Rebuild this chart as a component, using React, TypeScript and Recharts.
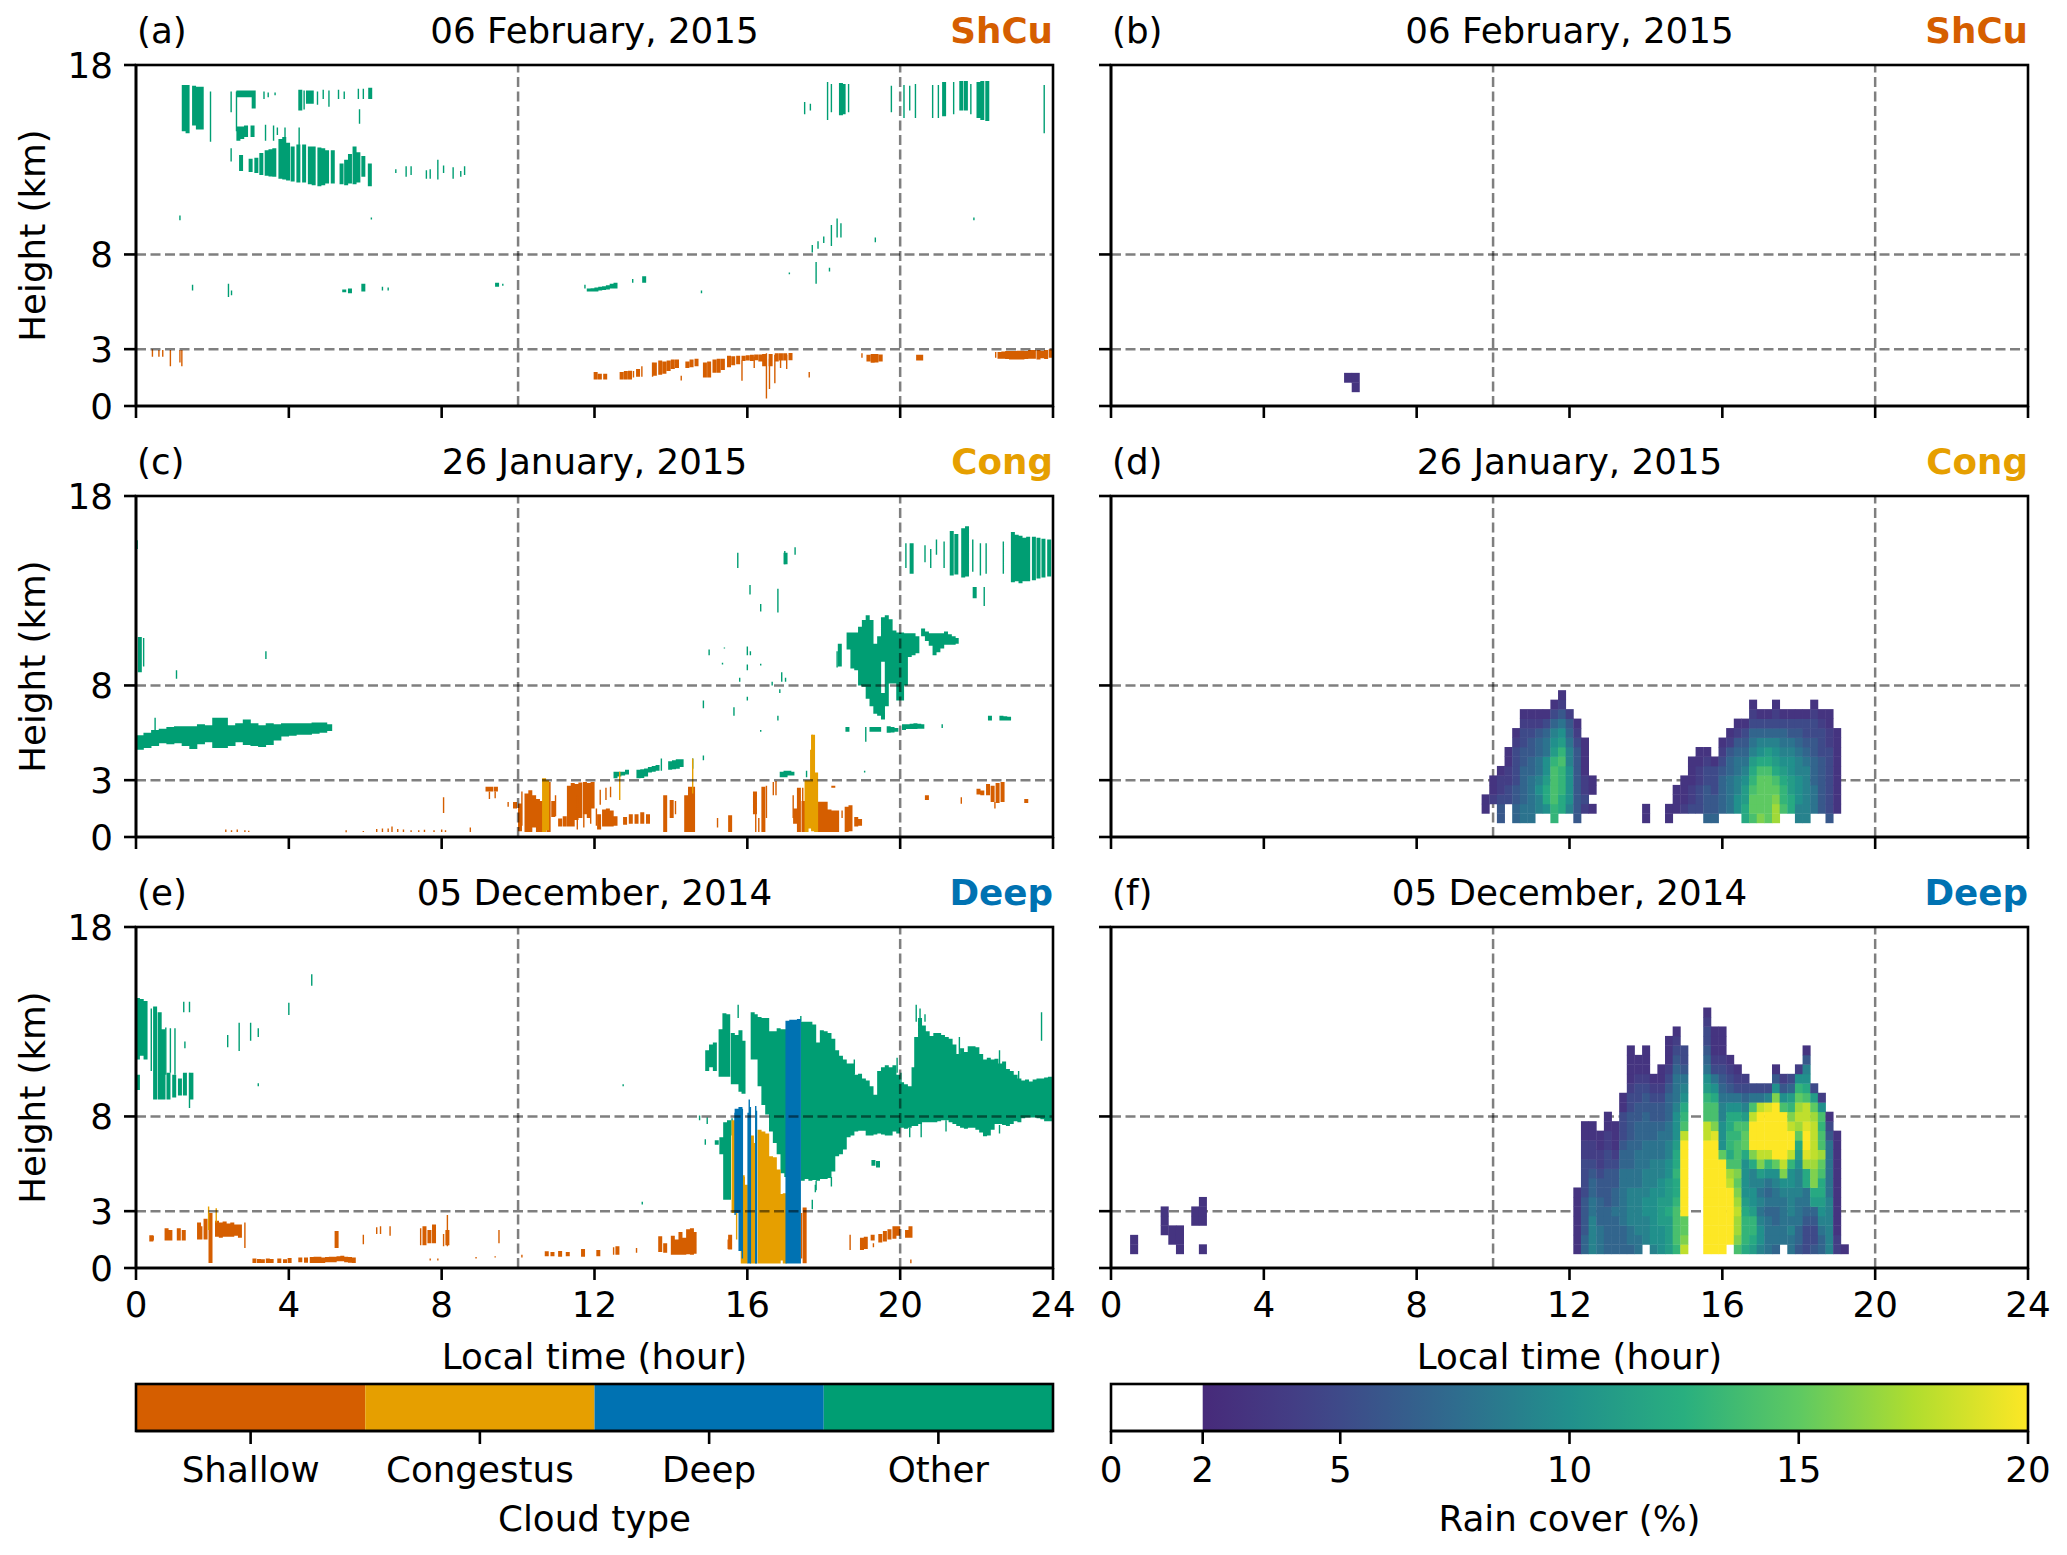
import React from "react";
import {
  Bar,
  BarChart,
  ComposedChart,
  Line,
  ReferenceLine,
  Scatter,
  XAxis,
  YAxis,
} from "recharts";

type Span = [number, number, number]; // time (h), cloud base (km), cloud top (km)
type RainColumn = [number, number, number[]]; // time (h), lowest cell (km), rain cover going up (0 = empty)

const timeTicks = [0, 4, 8, 12, 16, 20, 24];
const heightTicks = [0, 3, 8, 18];
const cloudTypes = ["Shallow", "Congestus", "Deep", "Other"];
const cloudTypeTicks = [0.5, 1.5, 2.5, 3.5];
const rainTicks = [0, 2, 5, 10, 15, 20];
const rainStopValues = [2, 4, 5, 7.5, 10, 12.5, 15, 17.5, 20];
const rainStopColors = ["#472a7a", "#433e85", "#3e4a89", "#2f6c8e", "#21908c", "#29af7f", "#5ec962", "#b0dd2f", "#fde725"];

// (a) 06 February 2015
const aOtherThick: Span[] = [
  [1.25, 14.5, 16.95], [1.35, 14.4, 16.95], [1.52, 14.8, 16.9], [1.62, 14.6, 16.85], [1.72, 14.6, 16.85],
  [2.68, 16.3, 16.65], [2.78, 16.3, 16.65], [2.88, 16.3, 16.65], [2.98, 16.3, 16.65], [3.08, 15.7, 16.65],
  [4.3, 15.6, 16.7], [4.5, 15.95, 16.65], [4.6, 15.95, 16.65], [6.13, 16.2, 16.8],
  [2.68, 14, 14.75], [2.78, 14.1, 14.75], [2.88, 14.2, 14.8], [3.05, 14.2, 14.8],
  [2.75, 12.4, 13.25], [3, 12.35, 13.05], [3.15, 12.3, 13.1], [3.28, 12.2, 13.35], [3.42, 12.15, 13.5], [3.52, 12.12, 13.55], [3.62, 12.1, 13.6],
  [3.78, 12, 14.1], [3.88, 11.95, 14.2], [3.98, 11.9, 13.9], [4.1, 11.85, 13.7], [4.25, 11.8, 13.8],
  [4.4, 11.8, 13.8], [4.55, 11.7, 13.7], [4.65, 11.65, 13.7], [4.8, 11.6, 13.65], [4.9, 11.65, 13.6], [5, 11.75, 13.5],
  [5.15, 11.75, 13.5], [5.38, 11.7, 12.8], [5.5, 11.65, 13], [5.6, 11.75, 13.3], [5.72, 11.7, 13.7],
  [5.82, 11.8, 13.4], [5.95, 12.1, 13.2], [6.12, 11.6, 12.8],
  [18.45, 15.35, 17.05], [18.52, 15.4, 17], [21.15, 15.3, 17.1], [21.6, 15.6, 17.15], [21.72, 15.6, 17.15],
  [22.05, 15.2, 17.1], [22.15, 15.1, 17.15], [22.28, 15.05, 17.15],
  [5.45, 6, 6.15], [5.6, 5.95, 6.2], [5.95, 6.05, 6.45], [9.45, 6.3, 6.5],
  [11.85, 6.05, 6.2], [11.95, 6.05, 6.22], [12.05, 6.05, 6.25], [12.15, 6.1, 6.3], [12.25, 6.12, 6.32], [12.35, 6.15, 6.38], [12.45, 6.2, 6.45], [12.55, 6.2, 6.5], [13.3, 6.5, 6.85],
];
const aOtherThin: Span[] = [
  [1.95, 13.95, 16.6], [2.49, 15.5, 16.6], [2.63, 14.5, 16.6], [3.35, 16.2, 16.6], [3.46, 16.3, 16.55],
  [3.64, 16.4, 16.55], [4.4, 15.65, 16.65], [4.75, 15.9, 16.6], [4.9, 16.2, 16.7], [5.05, 15.8, 16.65],
  [5.3, 16.2, 16.7], [5.45, 16.2, 16.6], [5.85, 14.9, 15.66], [5.82, 16.2, 16.75], [5.95, 16.2, 16.75],
  [2.49, 12.9, 13.6], [3.39, 14, 14.85], [3.6, 14, 14.8], [3.7, 14.3, 14.7], [3.9, 13.8, 14.7], [4.27, 13.7, 14.7],
  [6.8, 12.3, 12.5], [7.07, 12.1, 12.65], [7.2, 12.2, 12.65], [7.6, 12, 12.45], [7.7, 12, 12.5], [7.9, 11.95, 13],
  [8.05, 12.3, 12.7], [8.3, 12, 12.6], [8.5, 12.1, 12.4], [8.6, 12.2, 12.65],
  [17.5, 15.4, 16.05], [17.65, 15.6, 15.95], [18.1, 15.1, 17.1], [18.2, 15.5, 17], [18.65, 15.5, 17],
  [19.77, 15.5, 16.9], [20.1, 15.2, 16.95], [20.25, 15.6, 16.9], [20.4, 15.2, 17], [20.85, 15.2, 16.95],
  [21, 15.2, 16.95], [21.4, 15.4, 17.1], [21.85, 15.4, 17], [23.77, 14.4, 16.95],
  [1.15, 9.8, 10.05], [6.16, 9.85, 9.95], [21.93, 9.8, 9.95], [17.7, 8.1, 8.5], [17.85, 8.3, 8.7], [18, 8.6, 8.95],
  [18.2, 8.45, 9.55], [18.35, 8.9, 9.9], [18.45, 8.9, 9.65], [17.8, 6.45, 7.6], [18.15, 7.1, 7.3], [17.1, 6.95, 7.05],
  [19.35, 8.65, 8.9], [1.48, 6.1, 6.4], [2.42, 5.75, 6.45], [2.5, 5.85, 6.1], [6.45, 6.1, 6.3], [6.6, 6.1, 6.25],
  [9.6, 6.35, 6.45], [11.75, 6.2, 6.4], [13, 6.5, 6.7], [14.8, 5.95, 6.1],
];
const aShallowThin: Span[] = [
  [0.43, 2.6, 3], [0.6, 2.6, 2.95], [0.7, 2.6, 2.95], [0.9, 2.1, 2.95], [1.2, 2.1, 2.95], [1.15, 2.3, 2.95],
  [16.5, 0.4, 2.78], [16.58, 0.9, 2.5], [16.72, 1.2, 2.7], [15.86, 1.33, 2.4], [16.18, 2, 2.6], [17.62, 1.5, 1.8],
  [14.27, 1.35, 1.6], [19, 2.55, 2.78], [22.5, 2.55, 2.85], [13.02, 1.5, 1.85], [13.52, 1.55, 2.3],
  [13.24, 1.55, 2.1], [17.03, 1.95, 2.7], [16.87, 2, 2.7],
];
const aShallowThick: Span[] = [
  [12.03, 1.4, 1.8], [12.14, 1.4, 1.7], [12.28, 1.4, 1.7], [12.71, 1.4, 1.8], [12.82, 1.4, 1.85], [12.93, 1.4, 1.86],
  [13.14, 1.55, 1.95], [13.58, 1.6, 2.3], [13.72, 1.65, 2.4], [13.83, 1.7, 2.35], [13.94, 1.85, 2.4], [14.05, 1.95, 2.45],
  [14.16, 2, 2.45], [14.43, 2, 2.35], [14.54, 2.05, 2.45], [14.67, 2.1, 2.5], [14.89, 1.5, 2.3], [15, 1.5, 2.35],
  [15.14, 1.75, 2.45], [15.25, 1.75, 2.5], [15.36, 1.9, 2.5], [15.52, 2.05, 2.65], [15.63, 2.15, 2.62], [15.76, 2.2, 2.65],
  [15.9, 2.38, 2.65], [16.01, 2.4, 2.68], [16.12, 2.38, 2.7], [16.23, 2.42, 2.72], [16.34, 2.35, 2.72], [16.44, 2.1, 2.75],
  [16.61, 2.1, 2.75], [16.77, 2.35, 2.78], [16.88, 2.4, 2.78], [16.99, 2.4, 2.78], [17.13, 2.42, 2.8],
  [19.17, 2.35, 2.7], [19.28, 2.28, 2.75], [19.38, 2.3, 2.75], [19.49, 2.35, 2.72],
  [20.47, 2.4, 2.7], [20.55, 2.4, 2.7],
  [22.6, 2.5, 2.85], [22.7, 2.5, 2.88], [22.8, 2.48, 2.9], [22.9, 2.45, 2.9], [23, 2.45, 2.9], [23.1, 2.45, 2.92],
  [23.2, 2.45, 2.92], [23.3, 2.48, 2.9], [23.4, 2.5, 2.95], [23.5, 2.5, 2.95], [23.62, 2.45, 2.95],
  [23.72, 2.52, 2.92], [23.82, 2.48, 2.95], [23.94, 2.55, 3],
];

// (c) 26 January 2015
const cOtherWide: Span[] = [
  [0.1, 4.6, 5.37], [0.3, 4.7, 5.5], [0.5, 4.8, 5.65], [0.7, 4.95, 5.72], [0.9, 4.9, 5.8], [1.1, 4.95, 5.85], [1.3, 4.8, 5.85],
  [1.5, 4.65, 5.85], [1.7, 4.9, 5.95], [1.9, 5, 5.9], [2.1, 4.7, 6.3], [2.3, 4.7, 6.3], [2.5, 4.8, 5.9], [2.7, 5, 6],
  [2.9, 4.85, 6.2], [3.1, 4.8, 6], [3.3, 4.75, 5.9], [3.5, 4.85, 6], [3.7, 5.1, 5.95], [3.9, 5.3, 6], [4.1, 5.35, 6],
  [4.3, 5.4, 6], [4.5, 5.4, 6], [4.7, 5.45, 6.05], [4.9, 5.5, 6.05], [5.03, 5.6, 5.95],
];
const cOtherThick: Span[] = [
  [18.42, 9, 10.2], [18.65, 9.9, 10.8], [18.75, 8.9, 10.8], [18.85, 8.8, 10.8], [18.95, 8, 11.1], [19.05, 7.93, 11.45],
  [19.15, 7.3, 11.7], [19.25, 6.9, 11.45], [19.35, 6.5, 10.2], [19.45, 6.4, 10.6], [19.55, 9.25, 11.6], [19.55, 6.2, 7.6],
  [19.65, 6.9, 11.7], [19.75, 8.1, 11.5], [19.85, 8.1, 10.9], [19.95, 7.2, 10.8], [20.05, 7.2, 10.8], [20.15, 8, 10.75],
  [20.25, 9.5, 10.75], [20.35, 9.6, 10.75], [20.45, 9.7, 10.6], [20.6, 10.6, 11], [20.7, 10.35, 10.85], [20.8, 10.1, 10.75], [20.9, 9.6, 10.75],
  [21, 9.75, 10.75], [21.1, 9.95, 10.75], [21.2, 10.15, 10.85], [21.3, 10.15, 10.7], [21.4, 10.15, 10.6], [21.48, 10.2, 10.5],
  [19.25, 5.55, 5.8], [19.35, 5.55, 5.8], [19.45, 5.55, 5.8], [19.7, 5.5, 5.85], [19.8, 5.52, 5.8], [19.9, 5.55, 5.75], [20.1, 5.65, 5.95], [20.2, 5.7, 5.95],
  [20.3, 5.7, 5.98], [20.4, 5.7, 6], [20.5, 5.72, 5.98], [20.58, 5.72, 5.95], [18.62, 5.55, 5.8], [22.35, 6.15, 6.4], [22.65, 6.15, 6.4], [22.75, 6.15, 6.38], [22.85, 6.15, 6.35],
  [12.55, 3.1, 3.45], [12.65, 3.2, 3.45], [12.75, 3.25, 3.45], [12.85, 3.3, 3.55], [13.15, 3.1, 3.55], [13.25, 3.12, 3.58], [13.35, 3.2, 3.62], [13.45, 3.4, 3.7], [13.55, 3.45, 3.75],
  [13.65, 3.5, 3.8], [13.98, 3.55, 4], [14.08, 3.58, 4.05], [14.18, 3.6, 4.1], [14.28, 3.7, 4.1], [16.9, 3.15, 3.45], [17, 3.15, 3.5], [17.1, 3.25, 3.5], [17.18, 3.25, 3.45],
  [17, 14.4, 15], [20.3, 13.9, 15.5], [21.35, 13.8, 16.15], [21.47, 13.85, 16], [21.65, 13.7, 16.3], [21.75, 13.75, 16.4],
  [22.95, 13.45, 16.1], [23.05, 13.5, 15.95], [23.15, 13.4, 15.9], [23.25, 13.5, 15.8], [23.35, 13.5, 15.85], [23.5, 13.55, 15.85],
  [23.62, 13.65, 15.8], [23.75, 13.7, 15.75], [23.9, 13.75, 15.7], [0.1, 8.7, 10.56], [21.95, 12.6, 13.2],
];
const cOtherThin: Span[] = [
  [0.03, 15.2, 15.67], [0.2, 9, 10.5], [3.4, 9.4, 9.8], [1.06, 8.35, 8.8], [0.5, 5.5, 6.3],
  [20.15, 14.2, 15.5], [20.65, 14.5, 15.4], [20.8, 14.2, 15.2], [20.95, 14.9, 15.7], [21.15, 14.2, 15.6], [21.9, 14, 15.7],
  [22.1, 13.8, 15.5], [22.25, 13.9, 15.5], [22.7, 13.9, 15.6], [22.2, 12.2, 13.2], [15.75, 14.2, 15], [16.98, 14.4, 15.1],
  [17.25, 14.9, 15.3], [16.07, 12.8, 13.3], [16.8, 11.85, 13.1], [16.35, 11.9, 12.3],
  [19.1, 5.03, 5.8], [21.1, 5.75, 5.95], [13.75, 3.5, 4.15], [14.57, 3.6, 4.15], [14.85, 4.05, 4.3], [19.07, 3.4, 3.5],
  [15, 9.6, 9.9], [15.4, 9.95, 10], [15.35, 9.1, 9.2], [16, 9.6, 10.05], [16.08, 9.6, 9.8], [16, 8.8, 9.1], [16.35, 9.05, 9.15],
  [15.8, 8.2, 8.4], [16.9, 8.2, 8.7], [17, 8.2, 8.4], [16.65, 8, 8.2], [16.85, 7.6, 7.8], [16, 7.2, 7.4], [14.85, 6.8, 7.2],
  [15.65, 6.4, 6.85], [16.8, 6.15, 6.4], [16.35, 5.55, 5.65], [18.35, 8.95, 9.8], [17.55, 3.15, 3.5],
];
const cShallowThick: Span[] = [
  [9.2, 2.4, 2.65], [9.3, 2.4, 2.65], [9.42, 2.4, 2.65], [9.92, 1.5, 1.85], [10.05, 0.3, 1.77], [10.22, 0.27, 2.3], [10.32, 0.27, 2.47],
  [10.42, 0.5, 2.2], [10.52, 0.27, 2], [10.62, 0.27, 1.9], [10.8, 0.27, 2.9], [10.92, 1.05, 1.9], [11.1, 0.55, 0.98], [11.22, 0.55, 1.1],
  [11.33, 0.55, 2.7], [11.43, 0.55, 2.85], [11.53, 0.9, 2.8], [11.63, 1, 2.88], [11.75, 1.2, 2.9], [11.85, 1, 2.85], [11.95, 1.5, 2.9],
  [12.12, 0.4, 1.2], [12.25, 0.55, 1.45], [12.35, 0.55, 1.5], [12.45, 0.55, 1.4], [12.55, 0.6, 1.1], [12.8, 0.65, 1.05], [12.95, 0.7, 1.2],
  [13.1, 0.7, 1.2], [13.25, 0.7, 1.3], [13.4, 0.7, 1.2], [13.85, 0.27, 2.2], [14.02, 1, 1.95], [14.4, 0.27, 2.2], [14.5, 0.27, 2.65],
  [14.58, 0.27, 2.65], [15.55, 0.27, 1.15], [16.42, 0.27, 2.65], [16.2, 1.2, 2.4], [17.25, 0.7, 1.5], [17.35, 0.27, 2.6], [17.47, 0.27, 1.9],
  [17.85, 0.27, 1.86], [17.95, 0.27, 1.86], [18.05, 0.27, 1.86], [18.15, 0.27, 1.45], [18.25, 0.27, 1.4], [18.35, 0.27, 1.4],
  [18.6, 0.27, 1.6], [18.7, 0.3, 1.67], [18.85, 0.55, 1.05], [18.95, 0.6, 0.95], [18.25, 2.6, 2.7],
  [20.7, 1.95, 2.2], [22.05, 2.25, 2.55], [22.15, 2.2, 2.45], [22.3, 2.2, 2.8], [22.42, 1.85, 2.7], [22.55, 1.8, 2.85], [22.68, 1.85, 2.9], [23.3, 1.8, 2],
];
const cShallowThin: Span[] = [
  [9.25, 2, 2.4], [9.4, 2.05, 2.4], [9.74, 1.6, 1.85], [10.1, 0.6, 2.4], [10.72, 0.27, 3], [10.98, 1.1, 2.2], [11.55, 0.4, 2.2], [11.72, 0.5, 1.4],
  [11.9, 0.7, 1.8], [12.15, 1.7, 2.5], [12.3, 1.95, 2.6], [12.42, 2.1, 2.65], [12.05, 0.6, 1.5], [14.12, 1.2, 1.9], [15.22, 0.5, 1],
  [16.22, 0.27, 1.4], [16.3, 0.27, 1], [16.5, 1, 2.7], [16.68, 2.2, 2.9], [16.75, 2.2, 2.95], [17.2, 1, 2.2], [17.45, 1.2, 2.6],
  [18.48, 1, 1.4], [21.6, 1.75, 2.1], [22.48, 1.5, 1.85], [8.05, 1.27, 2.1], [8.75, 0.27, 0.5], [5.5, 0.25, 0.35],
  [2.35, 0.26, 0.39], [2.5, 0.26, 0.35], [2.65, 0.26, 0.4], [2.85, 0.26, 0.36], [2.95, 0.26, 0.33],
  [6.3, 0.26, 0.42], [6.45, 0.26, 0.45], [6.6, 0.26, 0.45], [6.7, 0.26, 0.55], [6.85, 0.26, 0.42], [7, 0.26, 0.4], [7.2, 0.26, 0.36],
  [7.4, 0.26, 0.36], [7.55, 0.26, 0.38], [7.8, 0.26, 0.36], [8, 0.26, 0.4], [8.1, 0.26, 0.36], [5.95, 0.26, 0.32],
];
const cCongestusThick: Span[] = [
  [10.68, 0.27, 3.1], [10.76, 0.35, 3], [17.55, 0.27, 3], [17.65, 0.45, 3], [17.72, 0.3, 5.4], [17.8, 0.27, 3.4],
];
const cCongestusThin: Span[] = [
  [12.66, 1.95, 3.45], [14.57, 2.3, 4.15], [17.7, 3, 5.4], [17.66, 3, 4.6],
];

// (e) 05 December 2014
const eOtherThick: Span[] = [
  [0.05, 11, 14.25], [0.15, 11.2, 14.2], [0.25, 11, 14.1], [0.05, 9.4, 10.2], [0.5, 8.9, 13.8], [0.62, 8.9, 13.5], [0.72, 8.9, 12.6],
  [0.85, 8.9, 10.3], [1, 9, 10.2], [1.15, 9.1, 10], [1.28, 9.1, 10.3], [1.45, 8.9, 10.3],
  [14.95, 10.4, 11.5], [15.05, 10.6, 11.8], [15.15, 10.4, 11.9], [15.3, 10.1, 12.6], [15.4, 10.1, 13.45], [15.5, 10.1, 13.4],
  [15.62, 9.7, 12.4], [15.72, 9.7, 12.3], [15.82, 9.3, 12.55], [15.9, 9.2, 12],
  [15.2, 6.5, 6.75], [15.32, 6, 6.9], [15.42, 3.6, 7.7], [15.52, 3.6, 7.8],
  [16.14, 11, 13.5], [16.22, 11, 13.4], [16.32, 9.6, 13.25], [16.42, 8.6, 13.2], [16.52, 8.1, 13.2], [16.62, 7.2, 12.5], [16.72, 6.6, 12.5],
  [16.82, 6, 12.65], [16.92, 5, 12.6], [17.02, 4.8, 12.6], [17.45, 4.6, 13], [17.55, 4.7, 13], [17.65, 4.6, 13], [17.75, 4.65, 12.85],
  [17.85, 4.6, 11.9], [17.95, 4.7, 12.55], [18.05, 4.7, 12.5], [18.15, 4.75, 12.4], [18.25, 5.1, 12.1], [18.35, 5.9, 11.5], [18.45, 6, 11.2],
  [18.55, 6.25, 11], [18.65, 6.9, 10.8], [18.75, 7, 10.8], [18.85, 7.2, 10.2], [18.95, 7.25, 10.25], [19.05, 7.25, 10], [19.15, 7, 9.9],
  [19.25, 7, 9.6], [19.35, 7.05, 9.15], [19.45, 7.1, 10.4], [19.55, 7.05, 10.6], [19.65, 7, 10.7], [19.75, 7, 10.6], [19.85, 7.2, 10.7],
  [19.95, 7.1, 10.2], [20.05, 7.4, 9.8], [20.15, 7.35, 9.7], [20.25, 7.4, 9.6], [20.35, 7.5, 10.6], [20.42, 7.5, 12.2], [20.52, 7.6, 13.2],
  [20.62, 7.7, 12.8], [20.72, 7.7, 12.5], [20.82, 7.7, 12.25], [20.92, 7.7, 12.4], [21.02, 7.75, 12.4], [21.12, 7.8, 12.3], [21.22, 7.8, 12.2],
  [21.32, 7.7, 12.1], [21.42, 7.6, 11.8], [21.52, 7.5, 11.3], [21.62, 7.4, 11.6], [21.72, 7.35, 11.4], [21.82, 7.4, 11.7], [21.92, 7.4, 11.7],
  [22.02, 7.3, 11.65], [22.12, 7.15, 11.3], [22.22, 6.95, 11], [22.32, 7, 11.1], [22.42, 7.3, 11], [22.52, 7.6, 11.05], [22.62, 7.6, 10.8],
  [22.72, 7.55, 10.9], [22.82, 7.5, 10.5], [22.92, 7.6, 10.4], [23.02, 7.75, 10.2], [23.12, 7.7, 10], [23.22, 7.9, 9.9], [23.32, 7.95, 9.95],
  [23.42, 7.95, 9.85], [23.52, 7.95, 9.95], [23.62, 7.9, 10], [23.72, 7.85, 10], [23.82, 7.75, 10.05], [23.92, 7.75, 10.1],
  [19.3, 5.4, 5.7], [19.42, 5.3, 5.65],
];
const eOtherThin: Span[] = [
  [0.4, 10.4, 13.7], [0.78, 10.2, 12.7], [0.9, 10.3, 12.65], [1.02, 10.2, 12.65], [1.4, 8.45, 10.3], [1.25, 13.5, 14.05], [1.4, 13.5, 14.05], [1.28, 11.6, 11.95],
  [2.4, 11.65, 12.3], [2.7, 11.45, 12.95], [3, 12, 12.95], [3.2, 12.2, 12.65], [3.2, 9.6, 9.75], [4, 13.35, 14], [4.6, 14.9, 15.5], [12.75, 9.6, 9.7], [13.25, 3.35, 3.5],
  [15.76, 13.2, 13.9], [14.75, 7.8, 8.05], [14.95, 7.6, 7.95], [14.9, 6.5, 6.8], [15.6, 7, 7.9], [17.7, 3.1, 3.6], [17.78, 4, 4.4],
  [17.4, 13, 13.3], [18.8, 10.2, 11], [19.92, 10.3, 11.1], [20.02, 9.5, 10.3], [20.42, 13, 13.9], [20.52, 13, 13.7], [20.65, 13, 13.4], [21.55, 11.3, 12.2], [23.7, 12, 13.5],
  [22.6, 10.5, 11.5], [23.1, 9.9, 10.4], [20.25, 6.9, 7.4], [20.55, 6.9, 7.6], [21.2, 7.2, 7.8], [22.6, 7.1, 7.55], [18.2, 4.3, 4.8], [17.8, 4.1, 4.6],
];
const eShallowThick: Span[] = [
  [0.4, 1.4, 1.73], [0.8, 1.45, 2.1], [0.9, 1.45, 2], [1.12, 1.45, 2.1], [1.25, 1.45, 2], [1.65, 1.5, 2.4], [1.82, 1.5, 2.6], [1.95, 0.26, 2.9], [2.12, 1.65, 2.5],
  [2.22, 1.6, 2.4], [2.32, 1.65, 2.45], [2.42, 1.65, 2.35], [2.52, 1.65, 2.4], [2.62, 1.7, 2.3], [2.72, 1.6, 2.3],
  [3.1, 0.26, 0.5], [3.22, 0.26, 0.48], [3.32, 0.26, 0.46], [3.45, 0.26, 0.5], [3.55, 0.26, 0.48], [3.75, 0.26, 0.5], [3.9, 0.26, 0.46], [4.02, 0.26, 0.53], [4.3, 0.3, 0.55], [4.45, 0.28, 0.55],
  [4.6, 0.26, 0.58], [4.7, 0.26, 0.6], [4.8, 0.26, 0.6], [4.9, 0.26, 0.55], [5, 0.3, 0.58], [5.1, 0.3, 0.6], [5.2, 0.3, 0.6], [5.3, 0.35, 0.62], [5.4, 0.35, 0.65], [5.5, 0.3, 0.6], [5.6, 0.28, 0.58], [5.7, 0.26, 0.55],
  [5.25, 1.05, 1.95], [7.55, 1.2, 2.2], [7.68, 1.3, 2], [7.8, 1.3, 2.3], [8.15, 1.2, 2], [10.75, 0.62, 0.88], [10.9, 0.62, 0.85], [11.1, 0.6, 0.9], [11.3, 0.62, 0.85],
  [11.7, 0.6, 1], [12.1, 0.62, 0.95], [12.6, 0.7, 1.15], [13.72, 0.85, 1.67], [13.85, 0.8, 1.3], [14.05, 0.7, 1.7], [14.15, 0.7, 1.5], [14.25, 0.7, 1.9],
  [14.35, 0.7, 1.6], [14.45, 0.72, 2.05], [14.55, 0.7, 2.1], [14.62, 0.75, 1.9], [15.55, 0.97, 1.75],
  [17.5, 0.25, 3.2], [19, 0.95, 1.6], [19.1, 1, 1.65], [19.28, 1.45, 1.75], [19.48, 1.35, 1.8], [19.6, 1.4, 1.95], [19.72, 1.5, 2.05], [19.85, 1.55, 2.2], [19.95, 1.7, 2.2],
  [20.18, 1.6, 2], [20.27, 1.6, 2.2],
];
const eShallowThin: Span[] = [
  [0.45, 1.45, 1.7], [1.72, 1.5, 2.2], [2.85, 1.05, 2.4], [5.95, 1.25, 1.75], [6.3, 1.8, 2.15], [6.4, 1.8, 2.2], [6.65, 1.7, 2.2], [7.45, 1.2, 2.1], [8.05, 1.15, 1.8], [8.15, 1.15, 2.8],
  [7.7, 0.4, 0.5], [7.9, 0.4, 0.5], [8.9, 0.5, 0.58], [9.4, 0.55, 0.62], [9.5, 1.3, 2], [10.1, 0.55, 0.7], [12.5, 0.7, 1.1], [13.1, 0.8, 1.05], [18.69, 0.95, 1.75],
  [19.3, 1.1, 1.3], [20.28, 0.25, 0.45], [17.42, 0.5, 2.9], [15.5, 1, 1.5],
];
const eCongestusThick: Span[] = [
  [15.64, 2.9, 7.8], [15.88, 0.24, 4.9], [15.96, 0.24, 4.4], [16.12, 0.24, 7], [16.2, 0.24, 6.6], [16.32, 0.24, 7.3], [16.42, 0.24, 7.2], [16.52, 0.24, 7.1],
  [16.62, 0.24, 5.9], [16.72, 0.24, 5.85], [16.82, 0.24, 5.2], [16.9, 0.4, 3.9], [16.98, 0.24, 3.95],
];
const eCongestusThin: Span[] = [
  [1.9, 2, 3.25], [2.1, 2.4, 3.15], [15.72, 1.5, 3], [15.92, 3.5, 4.8],
];
const eDeepThick: Span[] = [
  [15.72, 2.9, 8.4], [15.82, 0.9, 8.5], [17.05, 0.24, 13.05], [17.15, 0.24, 13.1], [17.25, 0.24, 13.1], [17.35, 0.24, 13.15],
];
const eDeepThin: Span[] = [
  [15.68, 2.8, 8.2], [15.87, 0.5, 8.4], [16.05, 0.24, 8.9], [16.08, 0.24, 8.5], [16.02, 0.24, 8.2], [16.22, 0.24, 8.55], [16.24, 0.24, 8.3],
];

// (b) rain cover
const bRain: RainColumn[] = [[6.2, 1.5, [3]], [6.4, 1, [3, 3]]];
// (d) rain cover
const dRain: RainColumn[] = [
  [9.8, 1.5, [3, 3]], [10, 2, [4, 3, 3]], [10.2, 1, [6, 6, 5, 4, 4, 3]], [10.4, 2, [5, 5, 4, 4, 3, 3]],
  [10.6, 1, [7, 7, 6, 6, 5, 5, 5, 5, 4, 3]], [10.8, 1, [8, 8, 7, 7, 7, 7, 6, 6, 5, 5, 4, 3]], [11, 1, [8, 8, 8, 8, 8, 7, 7, 6, 6, 5, 4, 3]],
  [11.2, 1.5, [9, 9, 10, 9, 8, 8, 7, 7, 6, 4, 3]], [11.4, 1.5, [10, 12, 12, 11, 10, 10, 8, 8, 7, 5, 3]],
  [11.6, 1, [13, 13, 14, 14, 14, 14, 13, 11, 10, 9, 7, 5, 3]], [11.8, 1.5, [12, 12, 13, 13, 13, 14, 13, 11, 10, 8, 6, 4, 3]],
  [12, 1.5, [9, 10, 10, 10, 10, 9, 9, 8, 7, 6, 4]], [12.2, 1, [6, 6, 6, 6, 6, 6, 6, 6, 5, 4, 3]], [12.4, 1.5, [4, 5, 4, 4, 3, 3, 3, 3]],
  [12.6, 1.5, [3, 0, 3, 3]],
  [14, 1, [3, 3]], [14.6, 1, [3, 3]], [14.8, 1.5, [3, 3, 3]], [15, 1.5, [4, 3, 3, 3]], [15.2, 1.5, [5, 4, 4, 3, 3, 3]], [15.4, 1.5, [5, 5, 5, 4, 4, 3, 3]],
  [15.6, 1, [7, 6, 6, 6, 5, 5, 4, 3]], [15.8, 1, [7, 6, 6, 5, 5, 5, 3]], [16, 1.5, [7, 7, 7, 7, 6, 5, 4, 3]], [16.2, 1.5, [8, 8, 8, 8, 7, 7, 6, 4, 3]],
  [16.4, 1.5, [10, 10, 9, 9, 8, 8, 7, 6, 4, 3]], [16.6, 1, [12, 12, 11, 11, 10, 9, 8, 7, 6, 5, 3]],
  [16.8, 1, [14, 15, 15, 14, 13, 12, 11, 9, 8, 7, 5, 4, 3]], [17, 1, [16, 15, 15, 15, 15, 14, 12, 10, 9, 7, 5, 3]],
  [17.2, 1, [15, 15, 15, 15, 15, 14, 12, 11, 9, 7, 5, 3]], [17.4, 1, [17, 17, 16, 15, 14, 12, 11, 10, 9, 7, 5, 4, 3]],
  [17.6, 1.5, [14, 13, 13, 12, 11, 10, 9, 8, 7, 5, 3]], [17.8, 1.5, [12, 12, 11, 11, 10, 10, 9, 8, 6, 5, 3]],
  [18, 1, [9, 9, 10, 10, 10, 9, 9, 8, 7, 6, 5, 3]], [18.2, 1, [9, 9, 9, 9, 9, 9, 8, 7, 6, 5, 5, 3]],
  [18.4, 1.5, [8, 8, 8, 7, 7, 7, 6, 6, 5, 5, 4, 3]], [18.6, 1.5, [6, 6, 6, 6, 6, 6, 5, 5, 5, 4, 3]],
  [18.8, 1, [6, 5, 5, 5, 5, 5, 5, 5, 4, 4, 3, 3]], [19, 1.5, [3, 3, 3, 3, 3, 3, 3, 3, 3]],
];
// (f) rain cover
const fRain: RainColumn[] = [
  [0.6, 1, [3, 3]], [1.4, 2, [3, 3, 3]], [1.6, 1.5, [3, 3]], [1.8, 1, [3, 3, 3]], [2.2, 2.5, [3, 3]], [2.4, 1, [3, 0, 0, 3, 3, 3]],
  [12.2, 1, [3, 3, 3, 3, 3, 3, 3]],
  [12.4, 1, [7, 7, 6, 6, 6, 6, 5, 5, 5, 5, 4, 4, 3, 3]],
  [12.6, 1, [9, 9, 9, 9, 8, 8, 7, 7, 6, 5, 4, 4, 3, 3]],
  [12.8, 1, [8, 8, 8, 7, 7, 7, 6, 6, 5, 4, 4, 3, 3]],
  [13, 1, [7, 7, 7, 7, 7, 6, 6, 6, 6, 5, 5, 4, 4, 3, 3]],
  [13.2, 1, [7, 7, 7, 7, 8, 7, 7, 6, 6, 5, 4, 3, 3, 3]],
  [13.4, 1, [7, 7, 7, 8, 8, 8, 8, 8, 8, 7, 7, 6, 5, 5, 5, 3, 3]],
  [13.6, 1, [7, 8, 8, 9, 9, 9, 9, 8, 8, 7, 7, 7, 6, 6, 6, 5, 5, 4, 3, 3, 3, 3]],
  [13.8, 1, [8, 8, 9, 9, 9, 9, 9, 8, 8, 8, 8, 7, 7, 7, 6, 6, 5, 5, 4, 3, 3]],
  [14, 1, [0, 9, 9, 9, 10, 10, 9, 9, 9, 8, 8, 8, 7, 7, 7, 6, 6, 5, 4, 3, 3, 3]],
  [14.2, 1, [9, 10, 10, 10, 10, 10, 10, 9, 9, 9, 8, 8, 7, 7, 6, 6, 5, 4, 3]],
  [14.4, 1, [10, 10, 10, 11, 11, 11, 10, 10, 9, 9, 8, 8, 8, 7, 6, 6, 5, 4, 3, 3]],
  [14.6, 1, [11, 11, 11, 11, 12, 11, 11, 11, 10, 10, 9, 9, 8, 8, 7, 7, 7, 6, 5, 4, 3, 3, 3]],
  [14.8, 1, [13, 14, 14, 14, 14, 13, 12, 12, 13, 12, 12, 11, 10, 10, 10, 9, 8, 8, 8, 7, 6, 5, 4, 3]],
  [15, 1, [18, 16, 15, 15, 20, 20, 20, 20, 20, 20, 20, 20, 18, 14, 13, 12, 10, 9, 8, 6, 5, 5]],
  [15.6, 1, [20, 20, 20, 20, 20, 20, 20, 20, 20, 20, 20, 20, 18, 18, 14, 14, 13, 11, 10, 8, 7, 6, 5, 5, 4, 3]],
  [15.8, 1, [20, 20, 20, 20, 20, 20, 20, 20, 20, 20, 20, 20, 19, 16, 14, 14, 12, 10, 8, 5, 4, 3, 3, 3]],
  [16, 1, [20, 20, 20, 20, 20, 20, 20, 20, 20, 20, 15, 10, 10, 10, 9, 9, 8, 7, 6, 5, 4, 3, 3, 3]],
  [16.2, 1, [0, 20, 20, 20, 20, 20, 20, 18, 17, 14, 12, 13, 13, 12, 12, 10, 8, 6, 5, 4, 3]],
  [16.4, 1, [14, 16, 17, 17, 18, 17, 16, 15, 16, 14, 14, 14, 13, 14, 12, 10, 8, 5, 4, 3]],
  [16.6, 1, [12, 13, 13, 13, 12, 11, 10, 10, 10, 10, 12, 15, 15, 14, 11, 9, 7, 5, 4]],
  [16.8, 1, [11, 12, 13, 13, 11, 10, 10, 9, 9, 12, 16, 20, 20, 20, 18, 14, 8, 5]],
  [17, 1, [9, 10, 10, 9, 8, 9, 8, 9, 11, 16, 18, 20, 20, 20, 20, 18, 8, 5]],
  [17.2, 1, [8, 8, 8, 8, 7, 8, 7, 8, 10, 13, 18, 20, 20, 20, 20, 19, 9, 5]],
  [17.4, 1, [7, 8, 8, 7, 7, 8, 8, 9, 10, 15, 20, 20, 20, 20, 20, 20, 16, 10, 6, 3]],
  [17.6, 1, [0, 8, 8, 8, 8, 8, 9, 10, 16, 18, 20, 20, 20, 20, 20, 14, 10, 6, 4]],
  [17.8, 1, [8, 8, 9, 8, 9, 9, 9, 10, 10, 13, 18, 20, 20, 18, 16, 13, 11, 7, 5]],
  [18, 1, [6, 7, 7, 8, 8, 8, 9, 9, 9, 10, 11, 12, 15, 17, 18, 17, 15, 13, 10, 4]],
  [18.2, 1, [5, 5, 5, 6, 7, 8, 8, 12, 12, 17, 19, 20, 20, 19, 18, 18, 14, 12, 10, 9, 6, 3]],
  [18.4, 1, [6, 5, 5, 6, 7, 11, 12, 16, 16, 17, 18, 18, 18, 18, 17, 15, 11, 5]],
  [18.6, 1, [7, 7, 8, 9, 10, 11, 12, 12, 14, 15, 17, 14, 14, 13, 14, 10, 4]],
  [18.8, 1, [9, 9, 9, 9, 9, 9, 8, 8, 8, 8, 8, 8, 6, 5, 3]],
  [19, 1, [4, 4, 3, 3, 3, 3, 3, 3, 3, 3, 3, 3, 3]],
  [19.2, 1, [3]],
];

const colors = { Shallow: "#D55E00", Congestus: "#E69F00", Deep: "#0072B2", Other: "#009E73" };
const font = "'DejaVu Sans', sans-serif";
const fontSize = 35.7;
const plotH = 341;
const plotW = 917;
const rows = [65, 496, 927];
const cols = [136, 1111];
const thin = 1.4;
const thick = 4;
const wide = 8;
const tickStyle = { fontSize, fill: "#000", fontFamily: font };
const axisStroke = { stroke: "#000", strokeWidth: 2.6 };

// vertical spans as one line per colour, broken by nulls
function spanPoints(spans: Span[]) {
  return spans.flatMap(([t, lo, hi]) => [{ t, h: lo }, { t, h: hi }, { t, h: null }]);
}

function rainCells(columns: RainColumn[]) {
  return columns.flatMap(([t, base, values]) =>
    values.map((v, i) => ({ t, h: base + i * 0.5, v })).filter((c) => c.v > 0)
  );
}

function hexRgb(hex: string) {
  return [1, 3, 5].map((i) => parseInt(hex.slice(i, i + 2), 16));
}

function rainColor(v: number) {
  let i = 0;
  while (i < rainStopValues.length - 2 && v > rainStopValues[i + 1]) i++;
  const f = Math.min(1, Math.max(0, (v - rainStopValues[i]) / (rainStopValues[i + 1] - rainStopValues[i])));
  const a = hexRgb(rainStopColors[i]);
  const b = hexRgb(rainStopColors[i + 1]);
  return `rgb(${a.map((c, k) => Math.round(c + (b[k] - c) * f)).join(",")})`;
}

function RainCell(props: any) {
  const w = (0.2 * plotW) / 24;
  const h = (0.5 * plotH) / 18;
  return <rect x={props.cx - w / 2} y={props.cy - h / 2} width={w + 0.4} height={h + 0.4} fill={rainColor(props.payload.v)} />;
}

interface PanelProps {
  col: number;
  row: number;
  lines?: Array<{ spans: Span[]; color: string; width: number }>;
  rain?: RainColumn[];
}

function Panel({ col, row, lines = [], rain }: PanelProps) {
  const last = row === 2;
  const xH = last ? 101 : 14;
  const bottom = last ? 12 : 30;
  const top = rows[row];
  const left = cols[col];
  return (
    <div style={{ position: "absolute", left: left - 136, top: top - 20 }}>
      <ComposedChart width={136 + plotW + 39} height={20 + plotH + xH + bottom} margin={{ top: 20, right: 39, bottom, left: 0 }}>
        <XAxis
          dataKey="t"
          type="number"
          domain={[0, 24]}
          ticks={timeTicks}
          interval={0}
          height={xH}
          tickSize={12}
          tickMargin={12}
          tick={tickStyle}
          axisLine={axisStroke}
          tickLine={axisStroke}
          tickFormatter={(v) => (last ? String(v) : "")}
          label={last ? { value: "Local time (hour)", position: "insideBottom", offset: 0, style: tickStyle } : undefined}
        />
        <YAxis
          dataKey="h"
          type="number"
          domain={[0, 18]}
          ticks={heightTicks}
          interval={0}
          width={136}
          tickSize={12}
          tickMargin={11}
          tick={tickStyle}
          axisLine={axisStroke}
          tickLine={axisStroke}
          tickFormatter={(v) => (col === 0 ? String(v) : "")}
          label={col === 0 ? { value: "Height (km)", angle: -90, position: "insideLeft", offset: 32, style: { ...tickStyle, textAnchor: "middle" } } : undefined}
        />
        {lines.map((l, i) => (
          <Line
            key={i}
            data={spanPoints(l.spans)}
            dataKey="h"
            stroke={l.color}
            strokeWidth={l.width}
            dot={false}
            activeDot={false}
            connectNulls={false}
            isAnimationActive={false}
          />
        ))}
        {rain && <Scatter data={rainCells(rain)} shape={<RainCell />} isAnimationActive={false} />}
        {[10, 20].map((x) => (
          <ReferenceLine key={x} x={x} stroke="#000" strokeOpacity={0.5} strokeWidth={2.5} strokeDasharray="10 4.5" />
        ))}
        {[3, 8].map((y) => (
          <ReferenceLine key={y} y={y} stroke="#000" strokeOpacity={0.5} strokeWidth={2.5} strokeDasharray="10 4.5" />
        ))}
      </ComposedChart>
    </div>
  );
}

const barH = 47;
const barTop = 1384;
const barAxisH = 100;

function CloudTypeBar() {
  return (
    <div style={{ position: "absolute", left: 0, top: barTop - 20 }}>
      <BarChart
        width={136 + plotW + 39}
        height={20 + barH + barAxisH + 12}
        layout="vertical"
        barCategoryGap={0}
        data={[{ name: "cloud", Shallow: 1, Congestus: 1, Deep: 1, Other: 1 }]}
        margin={{ top: 20, right: 39, bottom: 12, left: 136 }}
      >
        <XAxis
          type="number"
          domain={[0, 4]}
          ticks={cloudTypeTicks}
          interval={0}
          height={barAxisH}
          tickSize={13}
          tickMargin={13}
          tick={tickStyle}
          axisLine={axisStroke}
          tickLine={axisStroke}
          tickFormatter={(v) => cloudTypes[cloudTypeTicks.indexOf(v)]}
          label={{ value: "Cloud type", position: "insideBottom", offset: 0, style: tickStyle }}
        />
        <YAxis type="category" dataKey="name" hide />
        {cloudTypes.map((c) => (
          <Bar key={c} dataKey={c} stackId="a" fill={colors[c as keyof typeof colors]} isAnimationActive={false} />
        ))}
      </BarChart>
    </div>
  );
}

function RainBar() {
  return (
    <div style={{ position: "absolute", left: 975, top: barTop - 20 }}>
      <BarChart
        width={136 + plotW + 39}
        height={20 + barH + barAxisH + 12}
        layout="vertical"
        barCategoryGap={0}
        data={[{ name: "rain", blank: 2, ramp: 18 }]}
        margin={{ top: 20, right: 39, bottom: 12, left: 136 }}
      >
        <defs>
          <linearGradient id="rainRamp" x1="0" y1="0" x2="1" y2="0">
            {rainStopValues.map((v, i) => (
              <stop key={v} offset={(v - 2) / 18} stopColor={rainStopColors[i]} />
            ))}
          </linearGradient>
        </defs>
        <XAxis
          type="number"
          domain={[0, 20]}
          ticks={rainTicks}
          interval={0}
          height={barAxisH}
          tickSize={13}
          tickMargin={13}
          tick={tickStyle}
          axisLine={axisStroke}
          tickLine={axisStroke}
          label={{ value: "Rain cover (%)", position: "insideBottom", offset: 0, style: tickStyle }}
        />
        <YAxis type="category" dataKey="name" hide />
        <Bar dataKey="blank" stackId="a" fill="#fff" isAnimationActive={false} />
        <Bar dataKey="ramp" stackId="a" fill="url(#rainRamp)" isAnimationActive={false} />
      </BarChart>
    </div>
  );
}

const panelHeads = [
  { label: "(a)", title: "06 February, 2015", tag: "ShCu", color: colors.Shallow, col: 0, row: 0 },
  { label: "(b)", title: "06 February, 2015", tag: "ShCu", color: colors.Shallow, col: 1, row: 0 },
  { label: "(c)", title: "26 January, 2015", tag: "Cong", color: colors.Congestus, col: 0, row: 1 },
  { label: "(d)", title: "26 January, 2015", tag: "Cong", color: colors.Congestus, col: 1, row: 1 },
  { label: "(e)", title: "05 December, 2014", tag: "Deep", color: colors.Deep, col: 0, row: 2 },
  { label: "(f)", title: "05 December, 2014", tag: "Deep", color: colors.Deep, col: 1, row: 2 },
];

export default function App() {
  return (
    <div style={{ position: "absolute", left: 0, top: 0, width: 2067, height: 1555, background: "#fff", fontFamily: font, overflow: "hidden" }}>
      <Panel
        col={0}
        row={0}
        lines={[
          { spans: aOtherThick, color: colors.Other, width: thick },
          { spans: aOtherThin, color: colors.Other, width: thin },
          { spans: aShallowThick, color: colors.Shallow, width: thick },
          { spans: aShallowThin, color: colors.Shallow, width: thin },
        ]}
      />
      <Panel col={1} row={0} rain={bRain} />
      <Panel
        col={0}
        row={1}
        lines={[
          { spans: cOtherWide, color: colors.Other, width: wide },
          { spans: cOtherThick, color: colors.Other, width: thick },
          { spans: cOtherThin, color: colors.Other, width: thin },
          { spans: cShallowThick, color: colors.Shallow, width: thick },
          { spans: cShallowThin, color: colors.Shallow, width: thin },
          { spans: cCongestusThick, color: colors.Congestus, width: thick },
          { spans: cCongestusThin, color: colors.Congestus, width: thin },
        ]}
      />
      <Panel col={1} row={1} rain={dRain} />
      <Panel
        col={0}
        row={2}
        lines={[
          { spans: eOtherThick, color: colors.Other, width: thick },
          { spans: eOtherThin, color: colors.Other, width: thin },
          { spans: eShallowThick, color: colors.Shallow, width: thick },
          { spans: eShallowThin, color: colors.Shallow, width: thin },
          { spans: eCongestusThick, color: colors.Congestus, width: thick },
          { spans: eCongestusThin, color: colors.Congestus, width: thin },
          { spans: eDeepThick, color: colors.Deep, width: thick },
          { spans: eDeepThin, color: colors.Deep, width: thin },
        ]}
      />
      <Panel col={1} row={2} rain={fRain} />
      <CloudTypeBar />
      <RainBar />
      <svg width={2067} height={1555} style={{ position: "absolute", left: 0, top: 0, pointerEvents: "none" }}>
        {panelHeads.map((p) => (
          <g key={p.label} fontSize={fontSize} fontFamily={font}>
            <rect x={cols[p.col]} y={rows[p.row]} width={plotW} height={plotH} fill="none" stroke="#000" strokeWidth={2.6} />
            <text x={cols[p.col] + 1} y={rows[p.row] - 22}>{p.label}</text>
            <text x={cols[p.col] + plotW / 2} y={rows[p.row] - 22} textAnchor="middle">{p.title}</text>
            <text x={cols[p.col] + plotW} y={rows[p.row] - 22} textAnchor="end" fontWeight="bold" fill={p.color}>{p.tag}</text>
          </g>
        ))}
        {cols.map((x) => (
          <rect key={x} x={x} y={barTop} width={plotW} height={barH} fill="none" stroke="#000" strokeWidth={2.6} />
        ))}
      </svg>
    </div>
  );
}
